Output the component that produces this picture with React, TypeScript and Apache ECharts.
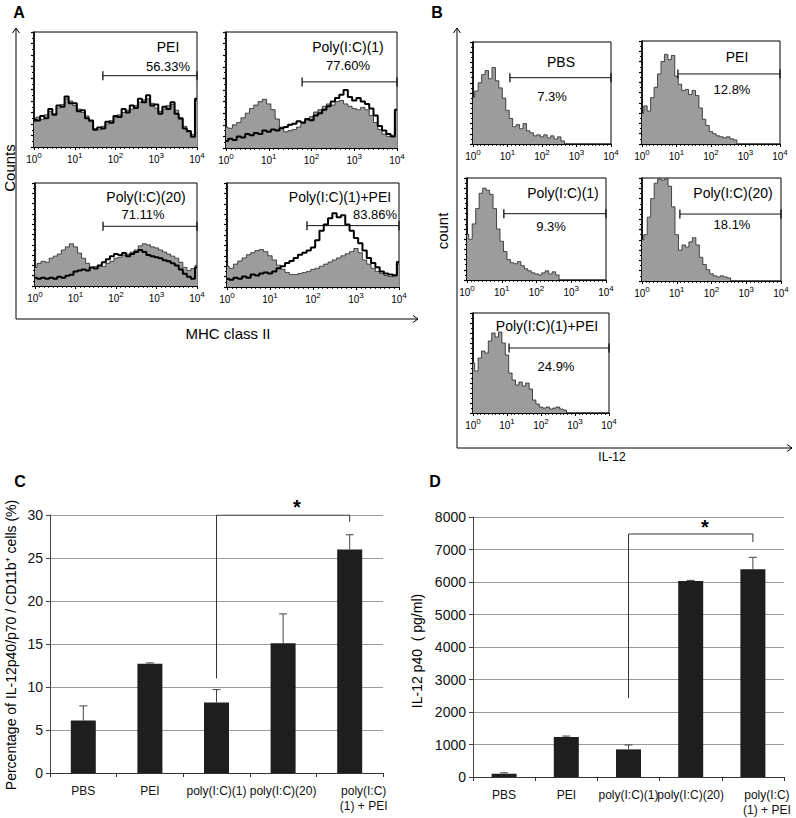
import React, { useEffect, useRef } from "react";
import * as echarts from "echarts";

const FONT = "'Liberation Sans', Arial, Helvetica, sans-serif";

// ---------- Panel A: MHC class II histograms (41 bins, 10^0 .. 10^4, 0.1 decade/bin), % of panel height
const aNames = ["PEI", "Poly(I:C)(1)", "Poly(I:C)(20)", "Poly(I:C)(1)+PEI"];
const aPercents = ["56.33%", "77.60%", "71.11%", "83.86%"];
const aGateStart = [1.69, 1.78, 1.68, 1.86];
const aGateLevel = [62, 57, 58, 59];
const aPeiGray = [22, 26, 24, 28, 31, 29, 34, 37, 42, 40, 36, 33, 30, 27, 22, 16, 15, 18, 20, 23, 26, 28, 30, 32, 33, 36, 39, 41, 42, 38, 34, 31, 33, 36, 37, 32, 24, 18, 13, 11, 40];
const aPeiBlack = [24, 23, 27, 25, 33, 28, 36, 35, 44, 38, 38, 31, 32, 25, 23, 15, 17, 16, 22, 21, 27, 26, 33, 30, 36, 34, 42, 39, 45, 36, 37, 29, 35, 33, 39, 29, 25, 16, 14, 9, 42];
const aPic1Gray = [18, 17, 20, 22, 26, 30, 34, 37, 40, 42, 38, 33, 25, 18, 14, 15, 16, 18, 21, 24, 27, 31, 33, 36, 38, 37, 40, 41, 38, 36, 34, 33, 35, 33, 28, 22, 16, 12, 10, 11, 33];
const aPic1Black = [6, 8, 7, 10, 9, 12, 11, 13, 12, 15, 14, 16, 15, 17, 18, 20, 21, 23, 22, 25, 24, 28, 30, 33, 36, 40, 43, 46, 50, 44, 41, 43, 40, 38, 34, 28, 19, 15, 12, 10, 33];
const aPic20Gray = [18, 22, 24, 23, 27, 29, 31, 35, 38, 41, 38, 32, 27, 22, 18, 19, 20, 19, 22, 24, 27, 28, 30, 31, 33, 35, 39, 41, 40, 38, 37, 35, 33, 31, 29, 27, 23, 18, 15, 17, 20];
const aPic20Black = [8, 7, 8, 7, 8, 7, 9, 8, 10, 11, 14, 15, 16, 15, 18, 17, 20, 23, 26, 29, 31, 30, 32, 29, 31, 33, 35, 33, 30, 29, 28, 27, 25, 24, 22, 20, 16, 12, 9, 7, 18];
const aPic1PeiGray = [20, 18, 22, 25, 28, 31, 33, 35, 36, 34, 30, 26, 21, 17, 14, 12, 12, 13, 14, 15, 17, 18, 20, 22, 24, 26, 28, 30, 32, 34, 37, 33, 26, 22, 18, 15, 13, 11, 10, 12, 22];
const aPic1PeiBlack = [8, 7, 9, 8, 10, 9, 12, 11, 13, 14, 13, 15, 18, 20, 23, 25, 28, 31, 33, 35, 38, 45, 54, 60, 66, 71, 67, 69, 60, 54, 47, 42, 35, 28, 23, 19, 15, 13, 12, 11, 24];

// ---------- Panel B: IL-12 histograms
const bNames = ["PBS", "PEI", "Poly(I:C)(1)", "Poly(I:C)(20)", "Poly(I:C)(1)+PEI"];
const bPercents = ["7.3%", "12.8%", "9.3%", "18.1%", "24.9%"];
const bGateStart = [1.07, 1.04, 1.06, 1.09, 1.06];
const bGateLevel = [65, 68, 65, 65, 65];
const bPbs = [46, 52, 60, 68, 72, 64, 75, 62, 55, 45, 33, 25, 17, 19, 15, 20, 13, 11, 8, 9, 7, 9, 6, 8, 5, 7, 3, 0, 0, 0, 0, 0, 0, 0, 0, 0, 0, 0, 0, 0, 0];
const bPei = [30, 37, 32, 45, 55, 68, 80, 87, 82, 86, 66, 58, 52, 53, 48, 52, 47, 35, 24, 18, 12, 10, 8, 7, 6, 7, 5, 4, 0, 0, 0, 0, 0, 0, 0, 0, 0, 0, 0, 0, 0];
const bPic1 = [45, 40, 55, 70, 85, 90, 88, 84, 70, 50, 38, 28, 20, 17, 16, 18, 14, 11, 9, 7, 6, 5, 7, 9, 6, 8, 5, 0, 0, 0, 0, 0, 0, 0, 0, 0, 0, 0, 0, 0, 0];
const bPic20 = [40, 45, 62, 80, 95, 99, 98, 99, 92, 72, 45, 30, 35, 33, 38, 42, 35, 23, 16, 11, 7, 5, 4, 5, 4, 3, 0, 0, 0, 0, 0, 0, 0, 0, 0, 0, 0, 0, 0, 0, 0];
const bPic1Pei = [50, 42, 55, 62, 60, 72, 80, 76, 81, 70, 58, 40, 33, 28, 31, 27, 30, 24, 13, 9, 6, 5, 6, 4, 5, 6, 4, 3, 0, 0, 0, 0, 0, 0, 0, 0, 0, 0, 0, 0, 0];

// ---------- Panels C and D: bar charts
const barCategories = ["PBS", "PEI", "poly(I:C)(1)", "poly(I:C)(20)", "poly(I:C)\n(1) + PEI"];
const cValues = [6.1, 12.7, 8.2, 15.1, 26.0];
const cErrTop = [7.8, 12.8, 9.7, 18.5, 27.7];
const cTicks = { min: 0, max: 30, interval: 5 };
const cBracket = [[2, 11.0], [2, 30], [4, 30], [4, 29.2]];
const dValues = [100, 1230, 850, 6030, 6390];
const dErrTop = [130, 1260, 985, 6050, 6760];
const dTicks = { min: 0, max: 8000, interval: 1000 };
const dBracket = [[2, 2430], [2, 7477], [4, 7477], [4, 7230]];

const BIN = 0.1;

type Hist = {
  box: number[];
  fill: number[];
  line?: number[];
  gate: number[];
  name: string;
  pct: string;
  namePos: number[];
  pctPos: number[];
};

const hists: Hist[] = [
  { box: [34, 32, 197, 147], fill: aPeiGray, line: aPeiBlack, gate: [aGateStart[0], aGateLevel[0]], name: aNames[0], pct: aPercents[0], namePos: [168, 47], pctPos: [168, 66] },
  { box: [226, 32, 397, 148], fill: aPic1Gray, line: aPic1Black, gate: [aGateStart[1], aGateLevel[1]], name: aNames[1], pct: aPercents[1], namePos: [348, 47], pctPos: [348, 65] },
  { box: [35, 183, 197, 286], fill: aPic20Gray, line: aPic20Black, gate: [aGateStart[2], aGateLevel[2]], name: aNames[2], pct: aPercents[2], namePos: [146, 197], pctPos: [143, 214] },
  { box: [227, 183, 399, 287], fill: aPic1PeiGray, line: aPic1PeiBlack, gate: [aGateStart[3], aGateLevel[3]], name: aNames[3], pct: aPercents[3], namePos: [340, 197], pctPos: [375, 214] },
  { box: [473, 42, 611, 144], fill: bPbs, gate: [bGateStart[0], bGateLevel[0]], name: bNames[0], pct: bPercents[0], namePos: [561, 62], pctPos: [552, 96] },
  { box: [642, 41, 780, 144], fill: bPei, gate: [bGateStart[1], bGateLevel[1]], name: bNames[1], pct: bPercents[1], namePos: [737, 57], pctPos: [732, 89] },
  { box: [467, 178, 606, 280], fill: bPic1, gate: [bGateStart[2], bGateLevel[2]], name: bNames[2], pct: bPercents[2], namePos: [563, 193], pctPos: [551, 226] },
  { box: [642, 178, 781, 281], fill: bPic20, gate: [bGateStart[3], bGateLevel[3]], name: bNames[3], pct: bPercents[3], namePos: [733, 193], pctPos: [732, 224] },
  { box: [473, 313, 609, 413], fill: bPic1Pei, gate: [bGateStart[4], bGateLevel[4]], name: bNames[4], pct: bPercents[4], namePos: [547, 326], pctPos: [556, 366] },
];

function buildOption() {
  const grid: any[] = [];
  const xAxis: any[] = [];
  const yAxis: any[] = [];
  const series: any[] = [];
  const graphic: any[] = [];

  hists.forEach((h, gi) => {
    const [x0, y0, x1, y1] = h.box;
    grid.push({ left: x0, top: y0, width: x1 - x0, height: y1 - y0, show: true, borderColor: "#000", borderWidth: 1, backgroundColor: "transparent" });
    xAxis.push({
      gridIndex: gi, type: "value", min: 0, max: 4, interval: 1,
      axisLine: { lineStyle: { color: "#000", width: 1.2 } },
      axisTick: { show: true, length: 3, lineStyle: { color: "#000", width: 1 } },
      minorTick: { show: true, splitNumber: 9, length: 2, lineStyle: { color: "#000", width: 0.8 } },
      splitLine: { show: false },
      axisLabel: {
        margin: 4, showMinLabel: true, showMaxLabel: true,
        formatter: (v: number) => `{b|10}{s|${Math.round(v)}}`,
        rich: {
          b: { fontSize: 10, fontFamily: FONT, color: "#000" },
          s: { fontSize: 8, fontFamily: FONT, color: "#000", padding: [0, 0, 8, 0] },
        },
      },
    });
    yAxis.push({
      gridIndex: gi, type: "value", min: 0, max: 100, interval: 10,
      axisLine: { show: true, lineStyle: { color: "#000", width: 1.6 } },
      axisTick: { show: true, length: 3, lineStyle: { color: "#000", width: 1.2 } },
      minorTick: { show: true, splitNumber: 2, length: 2, lineStyle: { color: "#000" } },
      axisLabel: { show: false },
      splitLine: { show: false },
    });
    series.push({
      type: "line", xAxisIndex: gi, yAxisIndex: gi, step: "middle", symbol: "none",
      data: h.fill.map((v, k) => [k * BIN, v]),
      lineStyle: { color: "#222", width: 0.8 },
      areaStyle: { color: "#9c9c9c", opacity: 1 },
      z: 2,
    });
    if (h.line) {
      series.push({
        type: "line", xAxisIndex: gi, yAxisIndex: gi, step: "middle", symbol: "none",
        data: h.line.map((v, k) => [k * BIN, v]),
        lineStyle: { color: "#000", width: 2 },
        z: 3,
      });
    }
    series.push({
      type: "line", xAxisIndex: gi, yAxisIndex: gi,
      data: [[h.gate[0], h.gate[1]], [4, h.gate[1]]],
      symbol: "rect", symbolSize: [1.3, 9],
      lineStyle: { color: "#111", width: 1 }, itemStyle: { color: "#111" },
      z: 4,
    });
    graphic.push({ type: "text", x: h.namePos[0], y: h.namePos[1], z: 100, style: { text: h.name, font: `14px ${FONT}`, fill: "#000", align: "center", verticalAlign: "middle" } });
    graphic.push({ type: "text", x: h.pctPos[0], y: h.pctPos[1], z: 100, style: { text: h.pct, font: `13px ${FONT}`, fill: "#000", align: "center", verticalAlign: "middle" } });
  });

  // Bar charts
  const bars = [
    { box: [50, 515, 383, 773], values: cValues, err: cErrTop, ticks: cTicks, bracket: cBracket },
    { box: [473, 517, 784, 777], values: dValues, err: dErrTop, ticks: dTicks, bracket: dBracket },
  ];
  bars.forEach((b, k) => {
    const gi = hists.length + k;
    const [x0, y0, x1, y1] = b.box;
    grid.push({ left: x0, top: y0, width: x1 - x0, height: y1 - y0 });
    xAxis.push({
      gridIndex: gi, type: "category",
      data: barCategories.map((c, i) => (i === 4 ? { value: c, textStyle: { padding: [0, 0, 0, 28] } } : c)),
      axisLine: { lineStyle: { color: "#333", width: 1 } },
      axisTick: { show: true, alignWithLabel: false, length: 4, lineStyle: { color: "#333" } },
      axisLabel: { interval: 0, color: "#111", fontSize: 12, fontFamily: FONT, margin: 10, lineHeight: 15 },
    });
    yAxis.push({
      gridIndex: gi, type: "value", min: b.ticks.min, max: b.ticks.max, interval: b.ticks.interval,
      axisLine: { show: true, lineStyle: { color: "#444" } },
      axisTick: { show: true, length: 4, lineStyle: { color: "#444" } },
      axisLabel: { color: "#111", fontSize: 14, fontFamily: FONT, margin: 7, formatter: (v: number) => String(v) },
      splitLine: { lineStyle: { color: "#9a9a9a", width: 1 } },
    });
    series.push({
      type: "bar", xAxisIndex: gi, yAxisIndex: gi, data: b.values, barWidth: 25,
      itemStyle: { color: "#1e1e1e" }, z: 2,
    });
    series.push({
      type: "custom", xAxisIndex: gi, yAxisIndex: gi, z: 3,
      data: b.values.map((v, i) => [i, v, b.err[i]]),
      encode: { x: 0, y: [1, 2] },
      renderItem: (_p: any, api: any) => {
        const i = api.value(0);
        const p0 = api.coord([i, api.value(1)]);
        const p1 = api.coord([i, api.value(2)]);
        return {
          type: "group",
          children: [
            { type: "line", shape: { x1: p0[0], y1: p0[1], x2: p1[0], y2: p1[1] }, style: { stroke: "#444", lineWidth: 1 } },
            { type: "line", shape: { x1: p1[0] - 4, y1: p1[1], x2: p1[0] + 4, y2: p1[1] }, style: { stroke: "#444", lineWidth: 1 } },
          ],
        };
      },
    });
    series.push({
      type: "line", xAxisIndex: gi, yAxisIndex: gi, data: b.bracket, symbol: "none",
      lineStyle: { color: "#333", width: 1 }, z: 4,
    });
  });

  const txt = (text: string, x: number, y: number, size: number, extra: any = {}) => ({
    type: "text", x, y, z: 100, rotation: extra.rotation || 0,
    style: { text, font: `${extra.bold ? "bold " : ""}${size}px ${FONT}`, fill: "#000", align: extra.align || "center", verticalAlign: "middle" },
  });
  const ln = (x1: number, y1: number, x2: number, y2: number) => ({ type: "line", z: 100, shape: { x1, y1, x2, y2 }, style: { stroke: "#000", lineWidth: 1 } });
  const pl = (pts: number[][]) => ({ type: "polyline", z: 100, shape: { points: pts }, style: { stroke: "#000", fill: null, lineWidth: 1 } });

  graphic.push(
    txt("A", 19, 12, 16, { bold: true }),
    txt("B", 437, 12, 16, { bold: true }),
    txt("C", 20, 481, 16, { bold: true }),
    txt("D", 435, 481, 16, { bold: true }),
    // A outer axes
    ln(16, 319, 16, 28), pl([[12.5, 33], [16, 28], [19.5, 33]]),
    ln(16, 319, 418, 319), pl([[413, 315.5], [418, 319], [413, 322.5]]),
    txt("Counts", 9, 168, 15, { rotation: Math.PI / 2 }),
    txt("MHC class II", 228, 333, 15),
    // B outer axes
    ln(457, 448, 457, 28), pl([[453.5, 33], [457, 28], [460.5, 33]]),
    ln(457, 448, 792, 448), pl([[787, 444.5], [792, 448], [787, 451.5]]),
    txt("count", 442, 231, 15, { rotation: Math.PI / 2 }),
    txt("IL-12", 612, 457, 12),
    // C / D axis names and stars
    txt("Percentage of IL-12p40/p70 / CD11b\u207A cells (%)", 11, 645, 14, { rotation: Math.PI / 2 }),
    txt("IL-12 p40  ( pg/ml)", 417, 651, 14, { rotation: Math.PI / 2 }),
    txt("*", 297, 507, 20, { bold: true }),
    txt("*", 705, 527, 20, { bold: true }),
  );

  return {
    animation: false,
    backgroundColor: "#fff",
    textStyle: { fontFamily: FONT },
    grid, xAxis, yAxis, series, graphic,
  };
}

export default function App() {
  const ref = useRef<HTMLDivElement>(null);
  useEffect(() => {
    if (!ref.current) return;
    const chart = echarts.init(ref.current, null, { renderer: "svg" });
    chart.setOption(buildOption() as any);
    return () => chart.dispose();
  }, []);
  return <div ref={ref} style={{ position: "absolute", left: 0, top: 0, width: 796, height: 818 }} />;
}
